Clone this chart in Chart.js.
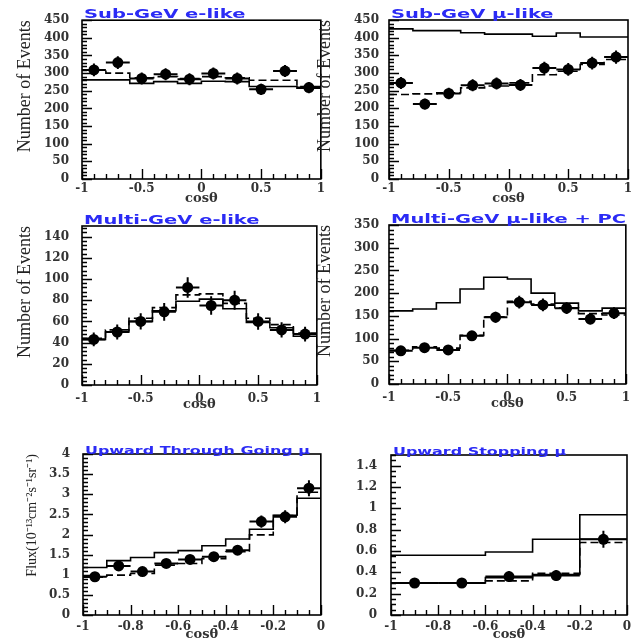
<!DOCTYPE html>
<html>
<head>
<meta charset="utf-8">
<title>Zenith angle distributions</title>
<script src="https://cdn.jsdelivr.net/npm/chart.js@4.4.1/dist/chart.umd.min.js"></script>
<style>
  html, body { margin: 0; padding: 0; background: #fff; }
  body { width: 637px; height: 644px; position: relative; overflow: hidden; }
  canvas { position: absolute; }
</style>
</head>
<body>
<canvas id="subGeVe"></canvas>
<canvas id="subGeVmu"></canvas>
<canvas id="multiGeVe"></canvas>
<canvas id="multiGeVmu"></canvas>
<canvas id="upThru"></canvas>
<canvas id="upStop"></canvas>
<script>
// bin centres (cos theta)
var cosCenters = [-0.9, -0.7, -0.5, -0.3, -0.1, 0.1, 0.3, 0.5, 0.7, 0.9];
var upThruCenters = [-0.95, -0.85, -0.75, -0.65, -0.55, -0.45, -0.35, -0.25, -0.15, -0.05];
var upStopCenters = [-0.9, -0.7, -0.5, -0.3, -0.1];

// tick labels
var cosTicks = [-1, -0.5, 0, 0.5, 1];
var upTicks = [-1, -0.8, -0.6, -0.4, -0.2, 0];
var subGeVTicks = [0, 50, 100, 150, 200, 250, 300, 350, 400, 450];
var multiETicks = [0, 20, 40, 60, 80, 100, 120, 140];
var multiMuTicks = [0, 50, 100, 150, 200, 250, 300, 350];
var upThruTicks = [0, 0.5, 1, 1.5, 2, 2.5, 3, 3.5, 4];
var upStopTicks = [0, 0.2, 0.4, 0.6, 0.8, 1, 1.2, 1.4];

// Sub-GeV e-like
var subEData = [309, 330, 285, 297, 283, 299, 285, 254, 306, 259];
var subEErr = [18, 18, 17, 17, 17, 17, 17, 16, 17, 16];
var subENoOsc = [281, 281, 271, 276, 271, 277, 276, 262, 262, 257];
var subEOsc = [308, 300, 287, 290, 285, 290, 287, 280, 280, 262];

// Sub-GeV mu-like
var subMuData = [272, 212, 242, 265, 270, 266, 314, 310, 328, 345];
var subMuErr = [17, 15, 16, 17, 17, 17, 18, 18, 18, 19];
var subMuNoOsc = [425, 420, 420, 414, 410, 410, 404, 413, 402, 402];
var subMuOsc = [239, 241, 244, 258, 263, 272, 295, 305, 324, 338];

// Multi-GeV e-like
var multiEData = [43, 50, 60, 69, 92, 75, 80, 60, 52, 48];
var multiEErr = [6.5, 7, 7.7, 8.3, 9.6, 8.7, 8.9, 7.8, 7.2, 6.9];
var multiENoOsc = [43, 50, 60, 70, 79, 81, 72, 59, 54, 46];
var multiEOsc = [44, 52, 63, 73, 85, 86, 77, 63, 57, 49];

// Multi-GeV mu-like + PC
var multiMuData = [73, 80, 75, 106, 147, 180, 174, 167, 143, 156];
var multiMuErr = [9, 9, 9, 10, 12, 14, 14, 13, 12, 13];
var multiMuNoOsc = [161, 165, 179, 209, 235, 231, 200, 178, 161, 167];
var multiMuOsc = [74, 82, 79, 107, 148, 182, 176, 168, 155, 152];

// Upward through-going mu (flux)
var upThruData = [0.95, 1.22, 1.08, 1.28, 1.38, 1.45, 1.61, 2.32, 2.44, 3.15];
var upThruErr = [0.08, 0.10, 0.09, 0.10, 0.10, 0.11, 0.12, 0.15, 0.16, 0.20];
var upThruNoOsc = [1.18, 1.35, 1.43, 1.55, 1.60, 1.72, 1.89, 2.13, 2.48, 2.90];
var upThruOsc = [0.94, 0.99, 1.03, 1.24, 1.28, 1.40, 1.57, 1.99, 2.47, 3.05];

// Upward stopping mu (flux)
var upStopData = [0.30, 0.30, 0.36, 0.37, 0.71];
var upStopErr = [0.04, 0.04, 0.05, 0.05, 0.08];
var upStopNoOsc = [0.56, 0.56, 0.59, 0.71, 0.94];
var upStopOsc = [0.30, 0.30, 0.32, 0.39, 0.68];
var upStopFit = [0.30, 0.30, 0.35, 0.38, 0.71];

// histogram outline: one point at each left bin edge plus the last right edge
function stepPoints(centers, values, half) {
    var pts = centers.map(function (c, i) { return {x: c - half, y: values[i]}; });
    pts.push({x: centers[centers.length - 1] + half, y: values[values.length - 1]});
    return pts;
}

var decorPlugin = {
    id: 'decor',
    afterDatasetsDraw: function (chart, args, opts) {
        var ctx = chart.ctx, a = chart.chartArea;
        var xs = chart.scales.x, ys = chart.scales.y;
        var i, n, v, len;
        ctx.save();
        ctx.strokeStyle = '#000';
        // error crosses on data points
        chart.data.datasets.forEach(function (ds) {
            if (!ds.errY) return;
            ctx.lineWidth = 2;
            ds.data.forEach(function (pt, k) {
                var px = xs.getPixelForValue(pt.x), py = ys.getPixelForValue(pt.y);
                ctx.beginPath();
                ctx.moveTo(xs.getPixelForValue(pt.x - ds.halfWidth), py);
                ctx.lineTo(xs.getPixelForValue(pt.x + ds.halfWidth), py);
                ctx.moveTo(px, ys.getPixelForValue(pt.y - ds.errY[k]));
                ctx.lineTo(px, ys.getPixelForValue(pt.y + ds.errY[k]));
                ctx.stroke();
            });
        });
        // frame
        ctx.lineWidth = 1.6;
        ctx.strokeRect(a.left, a.top, a.right - a.left, a.bottom - a.top);
        // inward ticks, bottom and left only
        ctx.lineWidth = 1.4;
        ctx.beginPath();
        n = Math.round((xs.max - xs.min) / opts.xStep);
        for (i = 0; i <= n; i++) {
            v = Math.round(xs.getPixelForValue(xs.min + i * opts.xStep)) + 0.5;
            len = i % opts.xEvery === 0 ? 10 : 5;
            ctx.moveTo(v, a.bottom);
            ctx.lineTo(v, a.bottom - len);
        }
        n = Math.floor((ys.max - ys.min) / opts.yStep + 1e-6);
        for (i = 0; i <= n; i++) {
            v = Math.round(ys.getPixelForValue(ys.min + i * opts.yStep)) + 0.5;
            len = i % opts.yEvery === 0 ? 10 : 5;
            ctx.moveTo(a.left, v);
            ctx.lineTo(a.left + len, v);
        }
        ctx.stroke();
        // blue panel title
        ctx.font = 'bold ' + opts.titleSize + 'px "DejaVu Sans"';
        ctx.fillStyle = '#2b2bf5';
        ctx.textBaseline = 'alphabetic';
        ctx.translate(a.left + 2, a.top + opts.titleRise);
        ctx.scale(opts.titleStretch, 1);
        ctx.fillText(opts.title, 0, 0);
        ctx.restore();
    }
};

function plainLabel(value) {
    return String(value);
}

function buildPanel(p) {
    var cv = document.getElementById(p.id);
    var h = p.area[3] - p.top + 26;
    cv.width = p.width;
    cv.height = h;
    cv.style.left = p.left + 'px';
    cv.style.top = p.top + 'px';

    var datasets = p.lines.map(function (ln) {
        return {
            type: 'line',
            data: stepPoints(p.centers, ln.values, p.half),
            stepped: 'before',
            borderColor: '#000',
            borderWidth: 1.6,
            borderDash: ln.dash ? [8, 4] : [],
            pointRadius: 0,
            fill: false
        };
    });
    datasets.push({
        type: 'scatter',
        data: p.centers.map(function (c, i) { return {x: c, y: p.values[i]}; }),
        errY: p.errors,
        halfWidth: p.half,
        pointRadius: 5.5,
        backgroundColor: '#000',
        borderColor: '#000',
        borderWidth: 0
    });

    var tickFont = {family: 'DejaVu Serif', weight: 'bold', size: 12};
    new Chart(cv, {
        type: 'scatter',
        data: {datasets: datasets},
        plugins: [decorPlugin],
        options: {
            responsive: false,
            animation: false,
            events: [],
            layout: {padding: {top: p.area[1] - p.top, right: p.left + p.width - p.area[2], left: 0, bottom: 0}},
            plugins: {
                legend: {display: false},
                tooltip: {enabled: false},
                decor: {
                    title: p.title, titleSize: p.titleSize, titleStretch: p.titleStretch, titleRise: p.titleRise,
                    xStep: p.xStep, xEvery: p.xEvery, yStep: p.yStep, yEvery: p.yEvery
                }
            },
            scales: {
                x: {
                    type: 'linear',
                    min: p.xTicks[0],
                    max: p.xTicks[p.xTicks.length - 1],
                    afterBuildTicks: function (s) { s.ticks = p.xTicks.map(function (v) { return {value: v}; }); },
                    afterFit: function (s) { s.height = 26; },
                    grid: {display: false, drawTicks: false},
                    border: {display: false},
                    ticks: {padding: p.xPad, color: '#333', font: tickFont, maxRotation: 0, autoSkip: false, callback: plainLabel},
                    title: {display: true, text: 'cosθ', color: '#333', padding: 0,
                            font: {family: 'DejaVu Serif', weight: 'bold', size: 13, lineHeight: 1}}
                },
                y: {
                    type: 'linear',
                    min: 0,
                    max: p.yMax,
                    afterBuildTicks: function (s) { s.ticks = p.yTicks.map(function (v) { return {value: v}; }); },
                    afterFit: function (s) { s.width = p.area[0] - p.left; },
                    grid: {display: false, drawTicks: false},
                    border: {display: false},
                    ticks: {padding: p.yPad, color: '#333', font: tickFont, autoSkip: false, callback: plainLabel},
                    title: {display: !!p.yTitle, text: p.yTitle || '', color: '#222', align: 'end',
                            padding: {top: p.yTitlePad, bottom: 0},
                            font: {family: 'Liberation Serif', size: p.yTitleSize, lineHeight: 1}}
                }
            }
        }
    });
}

buildPanel({
    id: 'subGeVe', left: 0, top: 0, width: 328, area: [82, 20, 321, 179],
    title: 'Sub-GeV e-like', titleSize: 13, titleStretch: 1.5, titleRise: -2,
    centers: cosCenters, half: 0.1, values: subEData, errors: subEErr,
    lines: [{values: subENoOsc}, {values: subEOsc, dash: true}],
    xTicks: cosTicks, yTicks: subGeVTicks, yMax: 450,
    xStep: 0.1, xEvery: 5, yStep: 10, yEvery: 5, xPad: 3, yPad: 13,
    yTitle: 'Number of Events', yTitleSize: 18, yTitlePad: 16
});
buildPanel({
    id: 'subGeVmu', left: 312, top: 0, width: 325, area: [389, 20, 628, 179],
    title: 'Sub-GeV μ-like', titleSize: 13, titleStretch: 1.5, titleRise: -2,
    centers: cosCenters, half: 0.1, values: subMuData, errors: subMuErr,
    lines: [{values: subMuNoOsc}, {values: subMuOsc, dash: true}],
    xTicks: cosTicks, yTicks: subGeVTicks, yMax: 450,
    xStep: 0.1, xEvery: 5, yStep: 10, yEvery: 5, xPad: 3, yPad: 10,
    yTitle: 'Number of Events', yTitleSize: 18, yTitlePad: 4
});
buildPanel({
    id: 'multiGeVe', left: 0, top: 205, width: 328, area: [82, 226, 321, 385],
    title: 'Multi-GeV e-like', titleSize: 13, titleStretch: 1.5, titleRise: -2,
    centers: cosCenters, half: 0.1, values: multiEData, errors: multiEErr,
    lines: [{values: multiENoOsc}, {values: multiEOsc, dash: true}],
    xTicks: cosTicks, yTicks: multiETicks, yMax: 150,
    xStep: 0.1, xEvery: 5, yStep: 4, yEvery: 5, xPad: 7, yPad: 13,
    yTitle: 'Number of Events', yTitleSize: 18, yTitlePad: 16
});
buildPanel({
    id: 'multiGeVmu', left: 312, top: 205, width: 325, area: [389, 225, 627, 384],
    title: 'Multi-GeV μ-like + PC', titleSize: 13, titleStretch: 1.5, titleRise: -2,
    centers: cosCenters, half: 0.1, values: multiMuData, errors: multiMuErr,
    lines: [{values: multiMuNoOsc}, {values: multiMuOsc, dash: true}],
    xTicks: cosTicks, yTicks: multiMuTicks, yMax: 350,
    xStep: 0.1, xEvery: 5, yStep: 10, yEvery: 5, xPad: 7, yPad: 10,
    yTitle: 'Number of Events', yTitleSize: 18, yTitlePad: 4
});
buildPanel({
    id: 'upThru', left: 0, top: 425, width: 330, area: [83, 454, 323, 615],
    title: 'Upward Through Going μ', titleSize: 11, titleStretch: 1.45, titleRise: 0,
    centers: upThruCenters, half: 0.05, values: upThruData, errors: upThruErr,
    lines: [{values: upThruNoOsc}, {values: upThruOsc, dash: true}],
    xTicks: upTicks, yTicks: upThruTicks, yMax: 4,
    xStep: 0.05, xEvery: 4, yStep: 0.1, yEvery: 5, xPad: 5, yPad: 13,
    yTitle: 'Flux(10⁻¹³cm⁻²s⁻¹sr⁻¹)', yTitleSize: 14, yTitlePad: 25
});
buildPanel({
    id: 'upStop', left: 330, top: 425, width: 307, area: [391, 455, 627, 615],
    title: 'Upward Stopping μ', titleSize: 11, titleStretch: 1.45, titleRise: 0,
    centers: upStopCenters, half: 0.1, values: upStopData, errors: upStopErr,
    lines: [{values: upStopNoOsc}, {values: upStopFit}, {values: upStopOsc, dash: true}],
    xTicks: upTicks, yTicks: upStopTicks, yMax: 1.5,
    xStep: 0.05, xEvery: 4, yStep: 0.05, yEvery: 4, xPad: 5, yPad: 14,
    yTitle: '', yTitleSize: 14, yTitlePad: 0
});
</script>
</body>
</html>
